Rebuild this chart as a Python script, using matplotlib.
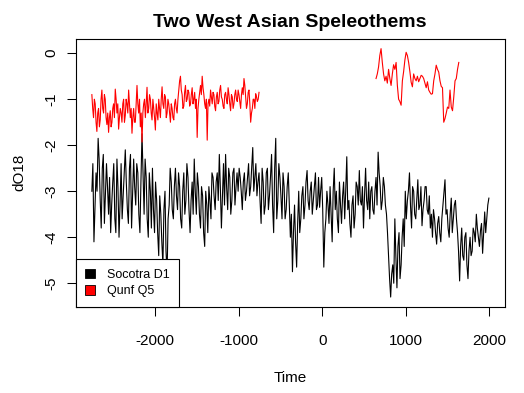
import matplotlib
matplotlib.use("Agg")
import matplotlib.pyplot as plt
from matplotlib.patches import Patch

plt.rcParams['font.family'] = ['Liberation Sans', 'DejaVu Sans']

# ---------------- data ----------------
# Socotra D1 (main samples)
socotra_years = [
    -2755, -2730, -2705, -2680, -2655, -2630, -2605, -2580, -2555, -2530,
    -2505, -2480, -2455, -2430, -2405, -2380, -2355, -2330, -2305, -2280,
    -2255, -2230, -2205, -2180, -2155, -2130, -2105, -2080, -2055, -2030,
    -2005, -1980, -1955, -1930, -1905, -1880, -1855, -1830, -1805, -1780,
    -1755, -1730, -1705, -1680, -1655, -1630, -1605, -1580, -1555, -1530,
    -1505, -1480, -1455, -1430, -1405, -1380, -1355, -1330, -1305, -1280,
    -1255, -1230, -1205, -1180, -1155, -1130, -1105, -1080, -1055, -1030,
    -1005, -980, -955, -930, -905, -880, -855, -830, -805, -780,
    -755, -730, -705, -680, -655, -630, -605, -580, -555, -530,
    -505, -480, -455, -430, -405, -380, -355, -330, -305, -280,
    -255, -230, -205, -180, -155, -130, -105, -80, -55, -30,
    -5, 20, 45, 70, 95, 120, 145, 170, 195, 220,
    245, 270, 295, 320, 345, 370, 395, 420, 445, 470,
    495, 520, 545, 570, 595, 620, 645, 670, 695, 720,
    745, 770, 795, 820, 845, 870, 895, 920, 945, 970,
    995, 1020, 1045, 1070, 1095, 1120, 1145, 1170, 1195, 1220,
    1245, 1270, 1295, 1320, 1345, 1370, 1395, 1420, 1445, 1470,
    1495, 1520, 1545, 1570, 1595, 1620, 1645, 1670, 1695, 1720,
    1745, 1770, 1795, 1820, 1845, 1870, 1895, 1920, 1945, 1970,
    1995,
]
socotra_d18o = [
    -3.0, -4.1, -2.6, -1.85, -3.2, -2.5, -3.7, -2.4, -3.5, -3.9,
    -2.8, -3.6, -2.3, -4.0, -2.4, -3.1, -2.1, -3.4, -2.5, -3.8,
    -2.3, -3.3, -2.6, -3.9, -1.75, -3.5, -2.7, -4.0, -3.0, -2.5,
    -3.9, -3.2, -4.4, -3.5, -4.6, -3.0, -4.8, -3.3, -2.8, -3.6,
    -2.5, -3.4, -2.9, -3.8, -2.6, -3.2, -2.7, -3.9, -2.8, -2.3,
    -3.5, -2.9, -3.8, -3.1, -4.2, -3.3, -2.9, -3.6, -2.7, -3.4,
    -2.6, -2.2, -3.8, -2.4, -2.2, -3.4, -2.7, -3.2, -2.5, -2.9,
    -3.0, -2.7, -3.4, -2.6, -3.0, -2.4, -2.9, -2.05, -2.7, -3.1,
    -2.6, -3.7, -2.8, -3.3, -2.5, -3.1, -2.2, -3.9, -1.85, -3.2,
    -2.7, -3.6, -2.9, -3.4, -2.6, -4.0, -4.75, -3.3, -4.65, -3.0,
    -3.6, -2.9, -3.3, -2.55, -3.4, -2.8, -3.2, -2.6, -3.3, -3.35,
    -2.7, -4.65, -3.6, -3.3, -2.9, -4.1, -2.5, -3.0, -3.9, -3.3,
    -3.1, -3.6, -2.25, -3.2, -4.0, -3.1, -3.5, -2.9, -2.55, -3.3,
    -3.8, -2.5, -3.4, -3.6, -2.9, -3.5, -2.7, -2.15, -2.9, -3.2,
    -2.9, -3.5, -4.4, -5.3, -4.6, -3.6, -5.1, -3.9, -4.6, -3.6,
    -3.0, -3.2, -2.6, -3.8, -3.0, -3.6, -2.75, -3.3, -3.75, -3.2,
    -2.9, -3.5, -3.8, -4.0, -3.6, -4.15, -3.55, -4.1, -3.3, -2.75,
    -3.4, -4.0, -3.15, -3.6, -3.2, -3.9, -4.95, -3.8, -4.5, -3.9,
    -4.9, -4.0, -4.3, -3.9, -3.5, -4.0, -3.85, -4.35, -3.45, -3.6,
    -3.15,
]
# Socotra D1 (in-between samples)
socotra_years_mid = [
    -2743, -2718, -2693, -2668, -2643, -2618, -2593, -2568, -2543, -2518,
    -2493, -2468, -2443, -2418, -2393, -2368, -2343, -2318, -2293, -2268,
    -2243, -2218, -2193, -2168, -2143, -2118, -2093, -2068, -2043, -2018,
    -1993, -1968, -1943, -1918, -1893, -1868, -1843, -1818, -1793, -1768,
    -1743, -1718, -1693, -1668, -1643, -1618, -1593, -1568, -1543, -1518,
    -1493, -1468, -1443, -1418, -1393, -1368, -1343, -1318, -1293, -1268,
    -1243, -1218, -1193, -1168, -1143, -1118, -1093, -1068, -1043, -1018,
    -993, -968, -943, -918, -893, -868, -843, -818, -793, -768,
    -743, -718, -693, -668, -643, -618, -593, -568, -543, -518,
    -493, -468, -443, -418, -393, -368, -343, -318, -293, -268,
    -243, -218, -193, -168, -143, -118, -93, -68, -43, -18,
    7, 32, 57, 82, 107, 132, 157, 182, 207, 232,
    257, 282, 307, 332, 357, 382, 407, 432, 457, 482,
    507, 532, 557, 582, 607, 632, 657, 682, 707, 732,
    757, 782, 807, 832, 857, 882, 907, 932, 957, 982,
    1007, 1032, 1057, 1082, 1107, 1132, 1157, 1182, 1207, 1232,
    1257, 1282, 1307, 1332, 1357, 1382, 1407, 1432, 1457, 1482,
    1507, 1532, 1557, 1582, 1607, 1632, 1657, 1682, 1707, 1732,
    1757, 1782, 1807, 1832, 1857, 1882, 1907, 1932, 1957, 1982,
]
socotra_d18o_mid = [
    -2.4, -3.4, -3.0, -2.3, -3.8, -2.2, -3.1, -2.9, -2.7, -3.3,
    -2.4, -3.9, -2.9, -3.3, -3.6, -2.6, -2.8, -3.7, -2.2, -3.1,
    -2.9, -2.4, -3.5, -2.8, -2.6, -2.3, -3.6, -2.6, -3.8, -3.4,
    -2.8, -3.9, -3.1, -4.1, -3.4, -4.3, -3.6, -2.5, -3.4, -2.9,
    -3.1, -2.6, -3.6, -3.0, -3.5, -2.4, -3.4, -3.2, -3.5, -3.0,
    -2.6, -3.5, -2.9, -3.9, -3.0, -3.9, -3.2, -2.6, -3.1, -2.8,
    -3.2, -2.9, -3.1, -3.3, -2.9, -2.5, -3.5, -2.6, -3.3, -2.6,
    -2.5, -3.0, -2.8, -3.2, -2.7, -3.1, -2.5, -3.0, -2.4, -2.8,
    -3.2, -2.5, -3.5, -2.6, -3.4, -2.7, -3.3, -2.5, -3.6, -2.4,
    -3.1, -2.6, -3.6, -2.9, -3.3, -3.5, -3.9, -4.1, -3.7, -3.9,
    -3.1, -3.6, -2.8, -3.2, -3.0, -3.5, -2.9, -3.4, -2.7, -3.0,
    -3.4, -3.9, -3.0, -3.7, -3.5, -3.0, -3.4, -3.6, -2.8, -3.7,
    -2.8, -3.0, -3.4, -3.7, -3.3, -3.8, -2.8, -3.3, -3.2, -2.9,
    -3.1, -3.2, -2.8, -3.0, -3.4, -3.0, -3.3, -2.6, -3.4, -2.7,
    -3.3, -3.9, -4.9, -4.8, -5.0, -4.4, -4.2, -4.9, -4.0, -4.2,
    -3.6, -3.0, -3.3, -2.9, -3.5, -3.2, -3.4, -2.9, -3.4, -2.9,
    -3.4, -3.1, -3.5, -3.4, -3.9, -3.7, -3.9, -3.6, -3.0, -3.5,
    -3.8, -3.5, -3.9, -3.3, -3.6, -4.3, -4.2, -4.4, -4.0, -4.6,
    -4.3, -4.4, -3.8, -4.1, -3.8, -4.2, -3.7, -3.9, -3.9, -3.3,
]

# Qunf Q5, early segment (main samples)
qunf_years_early = [
    -2755, -2735, -2715, -2695, -2675, -2655, -2635, -2615, -2595, -2575,
    -2555, -2535, -2515, -2495, -2475, -2455, -2435, -2415, -2395, -2375,
    -2355, -2335, -2315, -2295, -2275, -2255, -2235, -2215, -2195, -2175,
    -2155, -2135, -2115, -2095, -2075, -2055, -2035, -2015, -1995, -1975,
    -1955, -1935, -1915, -1895, -1875, -1855, -1835, -1815, -1795, -1775,
    -1755, -1735, -1715, -1695, -1675, -1655, -1635, -1615, -1595, -1575,
    -1555, -1535, -1515, -1495, -1475, -1455, -1435, -1415, -1395, -1375,
    -1355, -1335, -1315, -1295, -1275, -1255, -1235, -1215, -1195, -1175,
    -1155, -1135, -1115, -1095, -1075, -1055, -1035, -1015, -995, -975,
    -955, -935, -915, -895, -875, -855, -835, -815, -795, -775,
    -755,
]
qunf_d18o_early = [
    -0.9, -1.4, -1.1, -1.7, -1.2, -1.45, -0.8, -1.3, -1.0, -1.55,
    -1.72, -1.25, -1.5, -1.1, -0.78, -1.3, -1.65, -1.2, -1.5, -1.0,
    -1.35, -1.1, -0.8, -1.4, -1.74, -1.2, -1.5, -0.7, -1.3, -1.6,
    -1.93, -1.1, -1.4, -0.74, -1.2, -1.0, -1.45, -1.2, -1.67, -1.3,
    -1.0, -1.4, -0.73, -1.2, -0.95, -1.3, -1.1, -1.5, -1.2, -1.45,
    -1.0, -1.3, -0.8, -0.5, -0.9, -1.15, -0.7, -1.0, -0.85, -1.1,
    -0.75, -1.0, -1.2, -1.83, -1.0, -0.7, -0.5, -0.9, -1.2, -1.89,
    -1.0, -0.8, -1.1, -0.9, -1.25, -0.85, -1.05, -0.7, -1.0, -1.2,
    -0.85, -1.1, -0.9, -1.25, -0.95, -1.1, -0.8, -1.05, -0.9, -1.2,
    -0.75, -0.55, -0.95, -1.1, -0.8, -1.5, -1.2, -1.0, -0.88, -1.05,
    -0.85,
]
# Qunf Q5, early segment (in-between samples)
qunf_years_early_mid = [
    -2745, -2725, -2705, -2685, -2665, -2645, -2625, -2605, -2585, -2565,
    -2545, -2525, -2505, -2485, -2465, -2445, -2425, -2405, -2385, -2365,
    -2345, -2325, -2305, -2285, -2265, -2245, -2225, -2205, -2185, -2165,
    -2145, -2125, -2105, -2085, -2065, -2045, -2025, -2005, -1985, -1965,
    -1945, -1925, -1905, -1885, -1865, -1845, -1825, -1805, -1785, -1765,
    -1745, -1725, -1705, -1685, -1665, -1645, -1625, -1605, -1585, -1565,
    -1545, -1525, -1505, -1485, -1465, -1445, -1425, -1405, -1385, -1365,
    -1345, -1325, -1305, -1285, -1265, -1245, -1225, -1205, -1185, -1165,
    -1145, -1125, -1105, -1085, -1065, -1045, -1025, -1005, -985, -965,
    -945, -925, -905, -885, -865, -845, -825, -805, -785, -765,
]
qunf_d18o_early_mid = [
    -1.2, -1.0, -1.5, -1.3, -1.6, -1.0, -1.2, -0.9, -1.4, -1.3,
    -1.4, -1.6, -1.2, -1.4, -1.0, -1.1, -1.4, -1.3, -1.1, -1.5,
    -1.0, -1.3, -1.1, -1.2, -1.4, -1.5, -1.1, -1.1, -1.0, -1.3,
    -1.3, -1.0, -1.1, -1.3, -0.9, -1.3, -1.0, -1.4, -1.1, -1.45,
    -1.2, -1.0, -1.1, -0.9, -1.4, -1.0, -1.3, -1.1, -1.4, -1.1,
    -1.2, -1.0, -0.6, -0.8, -1.2, -0.85, -1.05, -0.8, -1.15, -0.9,
    -1.1, -0.85, -1.0, -1.2, -0.85, -0.9, -0.75, -1.1, -1.0, -1.1,
    -1.15, -0.95, -0.85, -1.15, -0.95, -1.1, -0.8, -0.95, -1.15, -0.9,
    -1.0, -0.75, -1.1, -0.9, -1.2, -0.9, -1.0, -0.8, -1.05, -0.9,
    -0.9, -0.7, -1.2, -0.85, -1.1, -1.3, -1.0, -1.2, -0.95, -1.0,
]

# Qunf Q5, late segment
qunf_years_late = [
    645, 660, 675, 690, 705, 720, 735, 750, 765, 780,
    795, 810, 825, 840, 855, 870, 885, 900, 915, 930,
    945, 960, 975, 990, 1005, 1020, 1035, 1050, 1065, 1080,
    1095, 1110, 1125, 1140, 1155, 1170, 1185, 1200, 1215, 1230,
    1245, 1260, 1275, 1290, 1305, 1320, 1335, 1350, 1365, 1380,
    1395, 1410, 1425, 1440, 1455, 1470, 1485, 1500, 1515, 1530,
    1545, 1560, 1575, 1590, 1605, 1620, 1635,
]
qunf_d18o_late = [
    -0.55, -0.45, -0.3, -0.05, 0.1, -0.2, -0.45, -0.6, -0.5, -0.65,
    -0.35, -0.55, -0.7, -0.45, -0.25, -0.35, -0.2, -0.7, -1.0, -1.05,
    -1.13, -0.6, -0.4, -0.15, 0.02, -0.05, -0.2, -0.4, -0.63, -0.73,
    -0.45, -0.55, -0.6, -0.5, -0.62, -0.55, -0.48, -0.5, -0.55, -0.65,
    -0.75, -0.62, -0.8, -0.85, -0.89, -0.88, -0.6, -0.45, -0.26, -0.35,
    -0.41, -0.6, -0.72, -0.75, -1.5, -1.42, -1.3, -1.17, -1.2, -0.8,
    -1.17, -1.25, -0.95, -0.6, -0.55, -0.35, -0.2,
]

series_names = ["Socotra D1", "Qunf Q5"]
series_colors = ["black", "red"]
x_ticks = [-2000, -1000, 0, 1000, 2000]
y_ticks = [0, -1, -2, -3, -4, -5]


def merge(years_a, vals_a, years_b, vals_b):
    pairs = sorted(list(zip(years_a, vals_a)) + list(zip(years_b, vals_b)))
    return [p[0] for p in pairs], [p[1] for p in pairs]


soc_x, soc_y = merge(socotra_years, socotra_d18o, socotra_years_mid, socotra_d18o_mid)
qe_x, qe_y = merge(qunf_years_early, qunf_d18o_early, qunf_years_early_mid, qunf_d18o_early_mid)

# ---------------- plot ----------------
fig = plt.figure(figsize=(5.24, 3.93), dpi=100)
ax = fig.add_axes([0.1450, 0.2196, 0.8178, 0.6824])

ax.plot(soc_x, soc_y, color=series_colors[0], lw=0.8)
ax.plot(qe_x, qe_y, color=series_colors[1], lw=0.8)
ax.plot(qunf_years_late, qunf_d18o_late, color=series_colors[1], lw=0.8)

ax.set_xlim(-2945, 2182)
ax.set_ylim(-5.51, 0.32)
ax.set_xticks(x_ticks)
ax.set_xticklabels([str(t) for t in x_ticks])
ax.set_yticks(y_ticks)
ax.set_yticklabels([str(t) for t in y_ticks], rotation=90, va='center')

ax.tick_params(axis='both', direction='out', length=6.5, width=0.75,
               labelsize=11, colors='black')
ax.tick_params(axis='x', pad=13)
ax.tick_params(axis='y', pad=6)
for sp in ax.spines.values():
    sp.set_linewidth(0.8)
    sp.set_color('black')

ax.set_title("Two West Asian Speleothems", fontsize=14, fontweight='bold', pad=8.5)
ax.set_xlabel("Time", fontsize=11, labelpad=17)
ax.set_ylabel("dO18", fontsize=11, labelpad=13)

handles = [Patch(facecolor=c, edgecolor='black', linewidth=0.6) for c in series_colors]
leg = ax.legend(handles, series_names, loc='lower left', borderaxespad=0,
                fontsize=9, frameon=True, fancybox=False, framealpha=1,
                edgecolor='black', handlelength=0.8, handleheight=0.8,
                handletextpad=0.9, labelspacing=0.35, borderpad=0.75)
leg.get_frame().set_linewidth(0.8)

fig.savefig("out.png", dpi=100)
